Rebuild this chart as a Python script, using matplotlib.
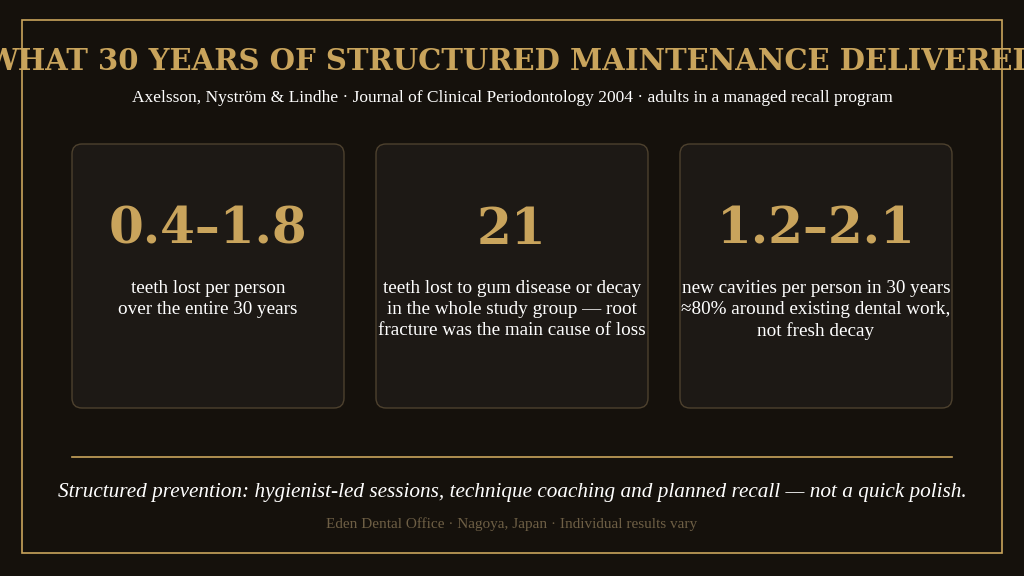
import matplotlib.pyplot as plt
from matplotlib.patches import FancyBboxPatch, Rectangle

bg = '#15110c'
gold = '#c9a45c'
card_fill = '#1d1915'
card_edge = '#4d412e'

title = 'WHAT 30 YEARS OF STRUCTURED MAINTENANCE DELIVERED'
subtitle = 'Axelsson, Nyström & Lindhe · Journal of Clinical Periodontology 2004 · adults in a managed recall program'
stats = ['0.4\u20131.8', '21', '1.2\u20132.1']
notes = [
    'teeth lost per person\nover the entire 30 years',
    'teeth lost to gum disease or decay\nin the whole study group \u2014 root\nfracture was the main cause of loss',
    'new cavities per person in 30 years\n\u224880% around existing dental work,\nnot fresh decay',
]
tagline = 'Structured prevention: hygienist-led sessions, technique coaching and planned recall \u2014 not a quick polish.'
footer = 'Eden Dental Office · Nagoya, Japan · Individual results vary'

fig = plt.figure(figsize=(10.24, 5.76), dpi=100, facecolor=bg)
ax = fig.add_axes([0, 0, 1, 1])
ax.set_xlim(0, 1024)
ax.set_ylim(576, 0)
ax.axis('off')
ax.set_facecolor(bg)

ax.add_patch(Rectangle((22, 20), 980, 533, fill=False, edgecolor=gold, lw=1.2))

serif = ['Liberation Serif', 'DejaVu Serif']
wide = ['DejaVu Serif']
ax.text(512, 62, title, ha='center', va='center', color=gold, fontsize=21,
        fontweight='bold', family=wide)
ax.text(512, 98, subtitle, ha='center', va='center', color='white', fontsize=12.5, family=serif)

lefts = [72, 376, 680]
for x0, s, n in zip(lefts, stats, notes):
    ax.add_patch(FancyBboxPatch((x0, 144), 272, 264, boxstyle='round,pad=0,rounding_size=10',
                                facecolor=card_fill, edgecolor=card_edge, lw=1))
    ax.text(x0 + 136, 230, s, ha='center', va='center', color=gold, fontsize=36,
            fontweight='bold', family=wide)
    ax.text(x0 + 136, 280, n, ha='center', va='top', color='white', fontsize=13.8,
            family=serif, linespacing=1.3)

ax.plot([72, 952], [457, 457], color=gold, lw=1.2)
ax.text(512, 492, tagline, ha='center', va='center', color='white', fontsize=15.3,
        style='italic', family=serif)
ax.text(512, 524, footer, ha='center', va='center', color='#6e5f45', fontsize=11, family=serif)

fig.savefig('out.png', dpi=100, facecolor=bg)
